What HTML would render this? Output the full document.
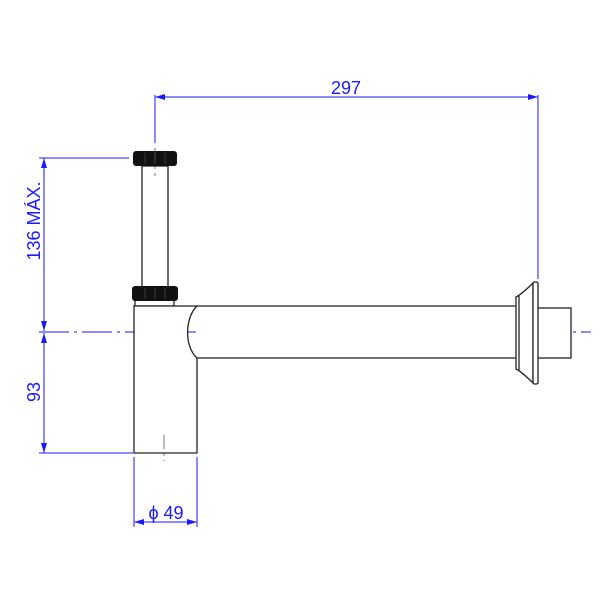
<!DOCTYPE html>
<html><head><style>body{margin:0;background:#fff}</style></head><body>
<svg width="600" height="600" viewBox="0 0 600 600" xmlns="http://www.w3.org/2000/svg" font-family="Liberation Sans, sans-serif">
<rect width="600" height="600" fill="#fff"/>
<defs>
<marker id="a" viewBox="0 0 10 6" refX="10" refY="3" markerWidth="10" markerHeight="6" orient="auto-start-reverse" markerUnits="userSpaceOnUse"><path d="M0,0L10,3L0,6z" fill="#1a1aff"/></marker>
</defs>
<g stroke="#1a1aff" stroke-width="1" fill="none">
<line x1="155" y1="95" x2="155" y2="143"/>
<line x1="538" y1="95" x2="538" y2="279"/>
<line x1="155" y1="97" x2="538" y2="97" marker-start="url(#a)" marker-end="url(#a)"/>
<line x1="39" y1="158" x2="129" y2="158"/>
<line x1="39" y1="453" x2="133" y2="453"/>
<line x1="44" y1="158" x2="44" y2="331" marker-start="url(#a)" marker-end="url(#a)"/>
<line x1="44" y1="333" x2="44" y2="453" marker-start="url(#a)" marker-end="url(#a)"/>
<line x1="39" y1="332" x2="196" y2="332" stroke-dasharray="30,5,3,5"/>
<line x1="548" y1="332" x2="591" y2="332" stroke-dasharray="20,5,3,5"/>
<line x1="134" y1="457" x2="134" y2="527"/>
<line x1="197" y1="457" x2="197" y2="527"/>
<line x1="134" y1="522" x2="197" y2="522" marker-start="url(#a)" marker-end="url(#a)"/>
</g>
<g fill="#1a1aff" font-size="18">
<text x="346" y="94" text-anchor="middle">297</text>
<text transform="translate(40,221) rotate(-90)" text-anchor="middle">136 MÁX.</text>
<text transform="translate(40,392) rotate(-90)" text-anchor="middle">93</text>
<text x="166" y="519" text-anchor="middle">ϕ 49</text>
</g>
<g stroke="#222" stroke-width="1.3" fill="#fff">
<rect x="142" y="166" width="26" height="121"/>
<rect x="135" y="300" width="39" height="6"/>
<path d="M134,306 H197 C186,316 183,345 197,358 V453 H134 Z"/>
<path d="M197,306 H516 M197,358 H516"/>
<rect x="537" y="308" width="34" height="50"/>
<path d="M516,297 C522,294 528,288 533,283 V383 C528,378 522,372 516,369 Z"/>
<line x1="519" y1="296" x2="519" y2="370"/>
<rect x="533" y="282" width="5" height="102" rx="1.5"/>
</g>
<rect x="133" y="151" width="44" height="15" rx="3" fill="#111"/>
<rect x="132" y="286" width="46" height="15" rx="3" fill="#111"/>
<g stroke="#444" stroke-width="0.8">
<line x1="145" y1="153" x2="145" y2="164"/><line x1="155" y1="153" x2="155" y2="164"/><line x1="165" y1="153" x2="165" y2="164"/>
<line x1="145" y1="288" x2="145" y2="299"/><line x1="155" y1="288" x2="155" y2="299"/><line x1="165" y1="288" x2="165" y2="299"/>
</g>
<g stroke="#555" stroke-width="0.8" stroke-dasharray="14,4,3,4">
<line x1="155" y1="148" x2="155" y2="176"/>
<line x1="164" y1="435" x2="164" y2="461"/>
</g>
</svg>
</body></html>
